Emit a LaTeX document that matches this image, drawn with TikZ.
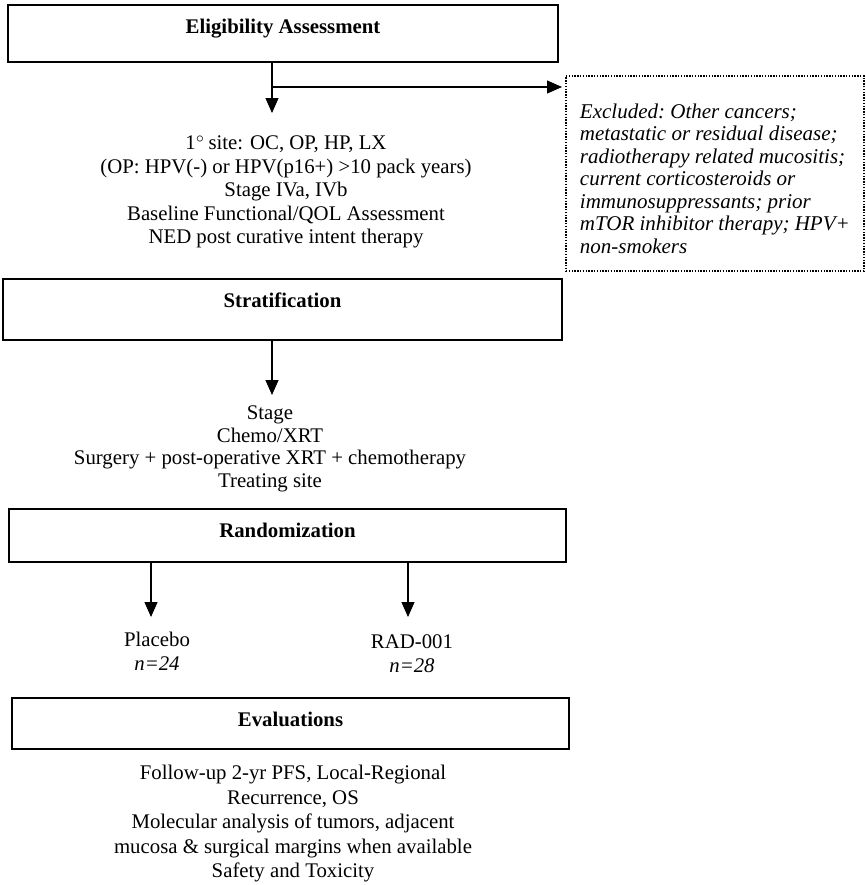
\documentclass[tikz,border=0pt]{standalone}
\usepackage{fontspec}
\setmainfont{Liberation Serif}
\usetikzlibrary{arrows.meta}
\begin{document}
\begin{tikzpicture}[
        x=0.5pt, y=-0.5pt,
        every node/.style={font=\fontsize{10.4}{11.5}\selectfont},
        box/.style={draw, rectangle, line width=1pt, inner sep=0pt, anchor=north,
            text height=14pt, font=\fontsize{10.4}{11.5}\selectfont\bfseries},
        txt/.style={align=center, inner sep=0pt},
        excl/.style={draw, line width=0.9pt, dash pattern=on 0.7pt off 0.7pt,
            anchor=north west, minimum width=149pt, minimum height=97.5pt,
            align=left, inner xsep=5pt,
            font=\fontsize{10.5}{11.25}\selectfont\itshape\frenchspacing},
        arr/.style={-{Triangle[length=7.5pt,width=6.5pt]}, line width=0.55pt}
        ]
        \useasboundingbox (0,0) rectangle (866,885);

        % nodes
        \node[box, minimum width=275pt, text depth=14.5pt] (elig) at (283,4) {Eligibility Assessment};
        \node[box, minimum width=279.5pt, text depth=16.5pt] (strat) at (282.5,278) {Stratification};
        \node[box, minimum width=278.5pt, text depth=12.5pt] (rand) at (287.5,508) {Randomization};
        \node[box, minimum width=278.5pt, text depth=11.5pt] (eval) at (290.5,697) {Evaluations};

        \node[excl] (excl) at (565,75) {\rule{0pt}{12.5pt}Excluded: Other cancers;\\metastatic or residual disease;\\radiotherapy related mucositis;\\current corticosteroids or\\immunosuppressants; prior\\mTOR inhibitor therapy; HPV+\\non-smokers};

        \node[txt, font=\fontsize{10.4}{11.75}\selectfont] (site) at (286,192) {1$^{\circ}$\,site: OC, OP, HP, LX\\(OP: HPV(-) or HPV(p16+) >10 pack years)\\Stage IVa, IVb\\Baseline Functional/QOL Assessment\\NED post curative intent therapy};
        \node[txt, font=\fontsize{10.4}{11.35}\selectfont] (stratlist) at (270,449) {Stage\\Chemo/XRT\\Surgery + post-operative XRT + chemotherapy\\Treating site};

        \node[txt, font=\fontsize{10.4}{12}\selectfont] (plac) at (157,651) {Placebo\\\textit{n=24}};
        \node[txt, font=\fontsize{10.4}{12}\selectfont] (rad) at (412,654) {RAD-001\\\textit{n=28}};

        \node[txt, font=\fontsize{10.4}{12.25}\selectfont] (evallist) at (293,824) {Follow-up 2-yr PFS, Local-Regional\\Recurrence, OS\\Molecular analysis of tumors, adjacent\\mucosa \& surgical margins when available\\Safety and Toxicity};

        % edges
        \coordinate (a1) at (272,113);
        \coordinate (br) at (272,87);
        \coordinate (a2) at (272,395);
        \coordinate (a3) at (151,617);
        \coordinate (a4) at (408,617);

        \draw[arr] (elig.south -| a1) -- (a1);
        \draw[arr, shorten >=1.5pt] (br) -- (br -| excl.west);
        \draw[arr] (strat.south -| a2) -- (a2);
        \draw[arr] (rand.south -| a3) -- (a3);
        \draw[arr] (rand.south -| a4) -- (a4);

    \end{tikzpicture}
\end{document}
